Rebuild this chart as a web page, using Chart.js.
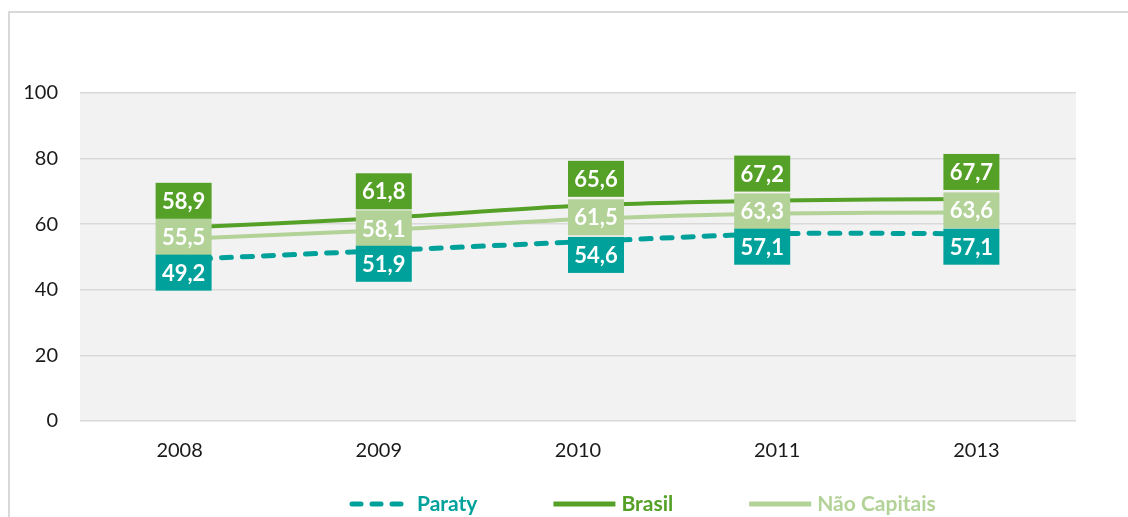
<!DOCTYPE html>
<html>
<head>
<meta charset="utf-8">
<script src="https://cdn.jsdelivr.net/npm/chart.js@4/dist/chart.umd.min.js"></script>
<style>
  html, body { margin: 0; padding: 0; background: #ffffff; }
  #wrap { width: 1128px; height: 517px; position: relative; }
</style>
</head>
<body>
<div id="wrap"><canvas id="c" width="1128" height="517"></canvas></div>
<script>
// ---- data ----
const categories = ['2008', '2009', '2010', '2011', '2013'];
const paraty = [49.2, 51.9, 54.6, 57.1, 57.1];
const brasil = [58.9, 61.8, 65.6, 67.2, 67.7];
const naoCapitais = [55.5, 58.1, 61.5, 63.3, 63.6];
const seriesNames = ['Paraty', 'Brasil', 'Não Capitais'];
const yTicks = [0, 20, 40, 60, 80, 100];

// ---- style ----
const COL_PARATY = '#00a19a';
const COL_BRASIL = '#55a128';
const COL_NAO = '#b2d298';
const FONT = 'Lato, "Open Sans", sans-serif';
const labelDx = [4, 5, 18, -15, -5]; // manual label nudges per category (style)

const bgPlugin = {
  id: 'bgFrame',
  beforeDraw(chart) {
    const { ctx, chartArea: a } = chart;
    ctx.save();
    ctx.fillStyle = '#ffffff';
    ctx.fillRect(0, 0, chart.width, chart.height);
    ctx.fillStyle = '#f2f2f2';
    ctx.fillRect(a.left, a.top, a.right - a.left, a.bottom - a.top);
    ctx.strokeStyle = '#d9d9d9';
    ctx.lineWidth = 2;
    ctx.beginPath();
    ctx.moveTo(9, chart.height);
    ctx.lineTo(9, 12);
    ctx.lineTo(chart.width, 12);
    ctx.stroke();
    ctx.restore();
  }
};

const fmt = v => v.toFixed(1).replace('.', ',');

const boxLabelPlugin = {
  id: 'boxLabels',
  afterDatasetsDraw(chart) {
    const ctx = chart.ctx;
    const W = 56, H = 36;
    const order = [2, 1, 0];
    ctx.save();
    ctx.font = 'bold 22px ' + FONT;
    ctx.textAlign = 'center';
    ctx.textBaseline = 'middle';
    order.forEach(di => {
      const ds = chart.data.datasets[di];
      const meta = chart.getDatasetMeta(di);
      meta.data.forEach((pt, i) => {
        const cx = pt.x + labelDx[i];
        let top;
        if (di === 1) top = pt.y - 9 - H;
        else if (di === 2) top = pt.y - 2 - H / 2;
        else top = pt.y - 5;
        ctx.fillStyle = ds.borderColor;
        ctx.fillRect(cx - W / 2, top, W, H);
        ctx.fillStyle = '#ffffff';
        ctx.fillText(fmt(ds.data[i]), cx, top + H / 2 + 1);
      });
    });
    ctx.restore();
  }
};

const legendPlugin = {
  id: 'customLegend',
  afterDraw(chart) {
    const ctx = chart.ctx;
    const y = 504;
    let x = 349;
    const sampleW = 62, gapText = 6, gapItem = 76;
    ctx.save();
    ctx.font = 'bold 21px ' + FONT;
    ctx.textBaseline = 'middle';
    ctx.textAlign = 'left';
    chart.data.datasets.forEach(ds => {
      const dashed = ds.borderDash && ds.borderDash.length;
      ctx.strokeStyle = ds.borderColor;
      ctx.lineWidth = 5;
      ctx.lineCap = dashed ? 'round' : 'butt';
      ctx.setLineDash(dashed ? [9, 11] : []);
      ctx.beginPath();
      ctx.moveTo(x + (dashed ? 3 : 0), y);
      ctx.lineTo(x + (dashed ? 52 : sampleW), y);
      ctx.stroke();
      ctx.setLineDash([]);
      ctx.fillStyle = ds.borderColor;
      const tx = x + sampleW + (dashed ? 6 : gapText);
      ctx.fillText(ds.label, tx, y);
      x = tx + ctx.measureText(ds.label).width + gapItem;
    });
    ctx.restore();
  }
};

new Chart(document.getElementById('c'), {
  type: 'line',
  data: {
    labels: categories,
    datasets: [
      { label: seriesNames[0], data: paraty, borderColor: COL_PARATY, backgroundColor: COL_PARATY,
        borderWidth: 5, borderDash: [10, 11], borderCapStyle: 'round', pointRadius: 0, tension: 0.25, fill: false },
      { label: seriesNames[1], data: brasil, borderColor: COL_BRASIL, backgroundColor: COL_BRASIL,
        borderWidth: 4, pointRadius: 0, tension: 0.25, fill: false },
      { label: seriesNames[2], data: naoCapitais, borderColor: COL_NAO, backgroundColor: COL_NAO,
        borderWidth: 4, pointRadius: 0, tension: 0.25, fill: false }
    ]
  },
  options: {
    responsive: false,
    animation: false,
    devicePixelRatio: 1,
    layout: { padding: { left: 0, right: 52, top: 93, bottom: 0 } },
    plugins: {
      legend: { display: false },
      tooltip: { enabled: false }
    },
    scales: {
      x: {
        offset: true,
        grid: { display: false, drawTicks: false },
        border: { display: false },
        ticks: { color: '#1a1a1a', font: { family: FONT, size: 20 }, padding: 18, maxRotation: 0 },
        afterFit(s) { s.height = 96; }
      },
      y: {
        min: 0, max: 100,
        afterBuildTicks(s) { s.ticks = yTicks.map(v => ({ value: v })); },
        grid: { color: '#d9d9d9', lineWidth: 1.5, drawTicks: false },
        border: { display: false },
        ticks: { color: '#1a1a1a', font: { family: FONT, size: 20 }, padding: 22 },
        afterFit(s) { s.width = 80; }
      }
    }
  },
  plugins: [bgPlugin, boxLabelPlugin, legendPlugin]
});
</script>
</body>
</html>
